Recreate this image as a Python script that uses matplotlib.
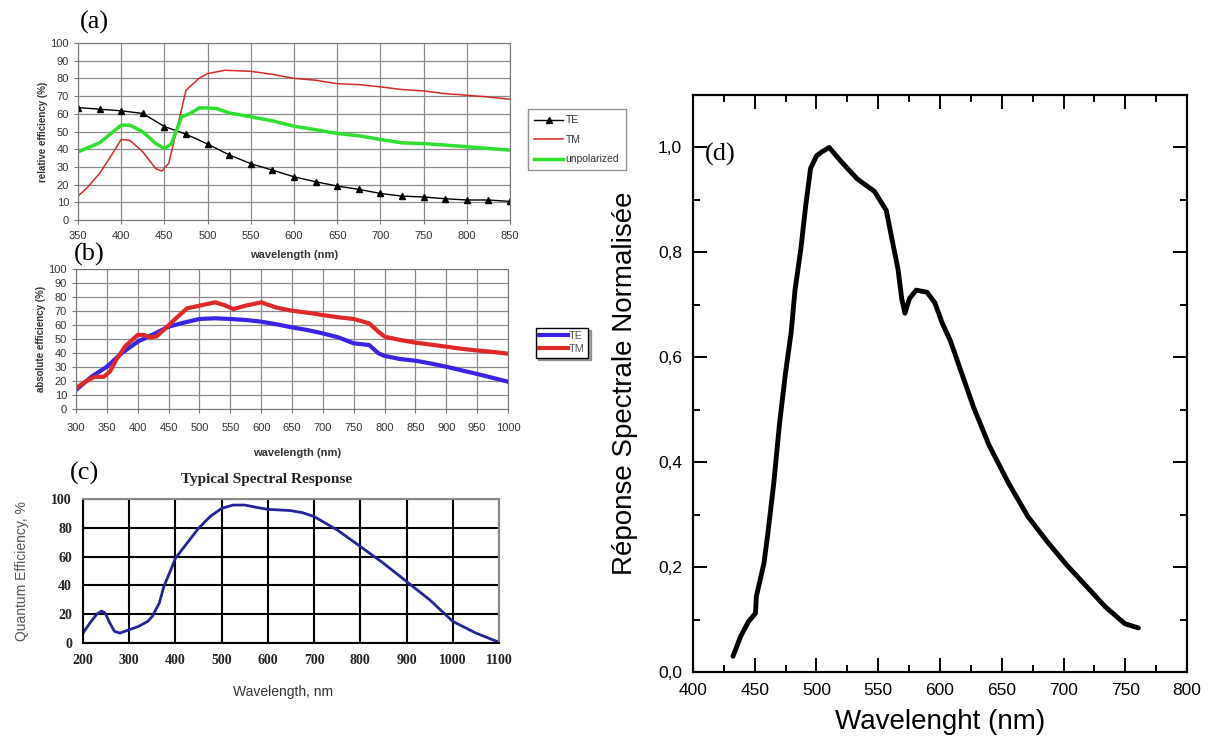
import matplotlib
matplotlib.use("Agg")
import matplotlib.pyplot as plt
from matplotlib.ticker import MultipleLocator, FuncFormatter

plt.rcParams["font.family"] = ["Liberation Sans", "DejaVu Sans"]

# ---- (a) relative efficiency ----
a_te_x = [350, 375, 400, 425, 450, 475, 500, 525, 550, 575, 600, 625, 650, 675, 700, 725, 750, 775, 800, 825, 850]
a_te_y = [63.5, 62.6, 61.7, 60.2, 52.8, 48.5, 42.9, 36.8, 31.8, 28.2, 24.4, 21.6, 19.2, 17.3, 15.0, 13.5, 13.0, 12.0, 11.3, 11.3, 10.5]
a_tm_x = [350, 360, 375, 390, 400, 410, 425, 440, 447, 455, 465, 475, 490, 500, 520, 550, 575, 600, 625, 650, 675, 700, 725, 750, 775, 800, 825, 850]
a_tm_y = [13.5, 17.9, 26.3, 37.6, 45.5, 45.0, 38.5, 29.0, 27.6, 32.0, 52.6, 73.3, 80.0, 82.7, 84.6, 84.0, 82.3, 80.0, 79.0, 77.0, 76.5, 75.2, 73.7, 72.9, 71.4, 70.5, 69.5, 68.2]
a_un_x = [350, 375, 400, 410, 425, 440, 450, 458, 470, 480, 490, 500, 510, 525, 550, 575, 600, 625, 650, 675, 700, 725, 750, 775, 800, 825, 850]
a_un_y = [38.5, 43.6, 53.6, 53.6, 49.8, 43.2, 40.4, 43.0, 58.3, 60.2, 63.3, 63.3, 63.0, 60.5, 58.3, 56.0, 53.0, 51.0, 48.9, 47.6, 45.5, 43.6, 43.2, 42.3, 41.4, 40.4, 39.5]

# ---- (b) absolute efficiency ----
b_te_x = [300, 325, 350, 375, 400, 425, 450, 475, 500, 525, 550, 575, 600, 625, 650, 675, 700, 725, 750, 775, 790, 800, 825, 850, 875, 900, 925, 950, 975, 1000]
b_te_y = [13.6, 23.0, 30.2, 40.2, 48.1, 53.3, 58.8, 61.7, 64.3, 64.8, 64.3, 63.6, 62.4, 60.5, 58.3, 56.4, 54.0, 51.2, 46.9, 45.7, 39.8, 37.9, 35.7, 34.5, 32.5, 30.2, 27.6, 25.0, 22.3, 19.5]
b_tm_x = [300, 315, 330, 345, 355, 365, 380, 400, 410, 420, 430, 445, 460, 480, 500, 525, 540, 555, 575, 600, 625, 650, 675, 700, 725, 750, 775, 790, 800, 825, 850, 875, 900, 925, 950, 975, 1000]
b_tm_y = [14.8, 19.5, 23.0, 23.0, 26.7, 35.0, 45.0, 52.9, 52.9, 51.2, 51.7, 57.6, 64.0, 71.9, 73.8, 76.2, 74.3, 71.4, 73.8, 76.2, 72.4, 70.2, 68.8, 67.1, 65.5, 64.3, 61.2, 55.2, 51.7, 49.3, 47.4, 46.0, 44.5, 43.0, 41.8, 40.8, 39.5]

# ---- (c) quantum efficiency ----
c_x = [200, 215, 230, 240, 248, 258, 268, 280, 300, 320, 340, 350, 365, 375, 390, 400, 425, 450, 475, 500, 525, 550, 575, 600, 625, 650, 675, 700, 750, 800, 850, 900, 950, 1000, 1050, 1100]
c_y = [6.9, 13.9, 20.1, 22.2, 20.8, 13.9, 8.1, 6.9, 9.2, 11.5, 15.0, 18.5, 27.7, 39.3, 50.8, 58.9, 69.3, 79.7, 87.8, 93.5, 95.8, 95.8, 94.2, 92.8, 92.4, 91.9, 90.5, 87.8, 78.5, 67.0, 55.4, 42.7, 30.0, 15.0, 6.9, 0.5]

# ---- (d) normalised spectral response ----
d_x = [432.4, 438.6, 444.9, 450.6, 451.3, 457.5, 460.6, 465.4, 470.0, 474.8, 479.5, 482.6, 487.4, 491.2, 495.2, 500.0, 504.6, 510.3,
       520.4, 533.0, 542.3, 547.0, 556.5, 561.2, 566.0, 569.0, 571.6, 575.3, 580.7, 589.5, 595.8, 602.0, 608.3, 617.8, 627.3,
       639.8, 655.5, 671.3, 687.0, 702.6, 718.3, 734.0, 749.7, 760.7]
d_y = [0.030, 0.068, 0.096, 0.112, 0.144, 0.208, 0.264, 0.360, 0.472, 0.568, 0.648, 0.728, 0.808, 0.888, 0.960, 0.984, 0.992, 1.000,
       0.972, 0.940, 0.924, 0.916, 0.880, 0.824, 0.768, 0.712, 0.684, 0.712, 0.728, 0.724, 0.704, 0.664, 0.632, 0.568, 0.504,
       0.432, 0.360, 0.296, 0.248, 0.204, 0.164, 0.124, 0.092, 0.084]

W, H = 1212, 745
fig = plt.figure(figsize=(W / 100, H / 100), dpi=100)


def px_axes(l, t, r, b):
    return fig.add_axes([l / W, 1 - b / H, (r - l) / W, (b - t) / H])


def px_text(x, y, s, **kw):
    fig.text(x / W, 1 - y / H, s, **kw)


# (a)
ax = px_axes(78, 43, 510, 220)
ax.plot(a_te_x, a_te_y, color="black", lw=1, marker="^", ms=4, label="TE")
ax.plot(a_tm_x, a_tm_y, color="#d42a2a", lw=1.1, label="TM")
ax.plot(a_un_x, a_un_y, color="#2ee02e", lw=2.5, label="unpolarized")
ax.set_xlim(350, 850)
ax.set_ylim(0, 100)
ax.xaxis.set_major_locator(MultipleLocator(50))
ax.yaxis.set_major_locator(MultipleLocator(10))
ax.grid(True, color="#8a8a8a", lw=0.9)
for s in ax.spines.values():
    s.set_color("#777777")
ax.tick_params(labelsize=8, colors="#333333", length=3, color="#777777")
ax.tick_params(axis="x", pad=5)
ax.set_ylabel("relative efficiency (%)", fontsize=7, fontweight="bold", color="#333333", labelpad=2)
px_text(294, 255, "wavelength (nm)", fontsize=8, fontweight="bold", color="#333333", ha="center", va="center")
ax.legend(loc="upper left", bbox_to_anchor=(523 / W, 1 - 104 / H), bbox_transform=fig.transFigure,
          fontsize=7.5, frameon=True, fancybox=False, edgecolor="#777777", handlelength=2.7,
          labelspacing=0.9, borderpad=0.6, handletextpad=0.3, labelcolor="#333333")

# (b)
ax = px_axes(76, 269, 508, 409)
ax.plot(b_te_x, b_te_y, color="#3a22e6", lw=3, label="TE")
ax.plot(b_tm_x, b_tm_y, color="#e02828", lw=3, label="TM")
ax.set_xlim(300, 1000)
ax.set_ylim(0, 100)
ax.xaxis.set_major_locator(MultipleLocator(50))
ax.yaxis.set_major_locator(MultipleLocator(10))
ax.grid(True, color="#8a8a8a", lw=0.9)
for s in ax.spines.values():
    s.set_color("#777777")
ax.tick_params(labelsize=8, colors="#333333", length=3, color="#777777")
ax.tick_params(axis="x", pad=7)
ax.set_ylabel("absolute efficiency (%)", fontsize=7, fontweight="bold", color="#333333", labelpad=2)
px_text(297, 453, "wavelength (nm)", fontsize=8, fontweight="bold", color="#333333", ha="center", va="center")
ax.legend(loc="upper left", bbox_to_anchor=(530 / W, 1 - 322 / H), bbox_transform=fig.transFigure,
          fontsize=8, frameon=True, fancybox=False, shadow=True, edgecolor="black", handlelength=2.6,
          labelspacing=0.3, borderpad=0.3, handletextpad=0.1, labelcolor="#555555")

# (c)
ax = px_axes(83, 499, 499, 643)
ax.plot(c_x, c_y, color="#24249a", lw=2)
ax.set_xlim(200, 1100)
ax.set_ylim(0, 100)
ax.xaxis.set_major_locator(MultipleLocator(100))
ax.yaxis.set_major_locator(MultipleLocator(20))
ax.grid(True, color="black", lw=1.5)
for s in ax.spines.values():
    s.set_linewidth(1.5)
ax.spines["right"].set_color("#888888")
ax.spines["top"].set_color("#888888")
ax.tick_params(length=0, pad=8)
for lab in ax.get_xticklabels() + ax.get_yticklabels():
    lab.set_family(["Liberation Serif", "DejaVu Serif"])
    lab.set_fontweight("bold")
    lab.set_fontsize(10)
    lab.set_color("#222222")
ax.set_ylabel("Quantum Efficiency, %", fontsize=10, color="#555555", labelpad=16)
px_text(283, 692, "Wavelength, nm", fontsize=10, color="#333333", ha="center", va="center")
px_text(267, 479, "Typical Spectral Response", fontsize=11, fontweight="bold",
        family=["Liberation Serif", "DejaVu Serif"], color="#222222", ha="center", va="center")

# (d)
ax = px_axes(693, 95, 1187, 672)
ax.plot(d_x, d_y, color="black", lw=3.5, solid_capstyle="round", solid_joinstyle="round")
ax.set_xlim(400, 800)
ax.set_ylim(0, 1.1)
ax.xaxis.set_major_locator(MultipleLocator(50))
ax.xaxis.set_minor_locator(MultipleLocator(25))
ax.yaxis.set_major_locator(MultipleLocator(0.2))
ax.yaxis.set_minor_locator(MultipleLocator(0.1))
ax.yaxis.set_major_formatter(FuncFormatter(lambda v, p: f"{v:.1f}".replace(".", ",")))
for s in ax.spines.values():
    s.set_linewidth(1.6)
ax.tick_params(which="both", direction="in", top=True, right=True, width=1.4, labelsize=12.5)
ax.tick_params(which="major", length=10, pad=8)
ax.tick_params(which="minor", length=5)
ax.set_ylabel("Réponse Spectrale Normalisée", fontsize=20, labelpad=14)
ax.set_xlabel("Wavelenght (nm)", fontsize=20, labelpad=8)

# panel letters
for x, y, s in [(94, 22, "(a)"), (89, 254, "(b)"), (84, 473, "(c)"), (720, 154, "(d)")]:
    px_text(x, y, s, fontsize=19, family=["Liberation Serif", "DejaVu Serif"], ha="center", va="center")

fig.savefig("out.png", dpi=100)
